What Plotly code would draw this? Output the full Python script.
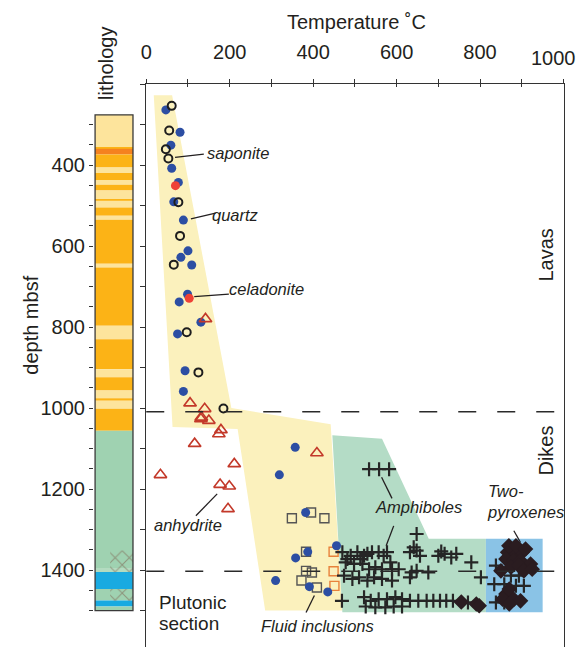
import plotly.graph_objects as go

W, H = 584, 647
FONT = "Liberation Sans, Arial, Helvetica, sans-serif"
TXT = "#231f20"


def px(x):
    return x / W


def py(y):
    return 1 - y / H


# ---------------- data ----------------
temp_ticks = [0, 200, 400, 600, 800, 1000]
temp_ticktext = ["0", "200", "400", "600", "800", ""]
depth_ticks = [400, 600, 800, 1000, 1200, 1400]
lith_ticks = list(range(300, 1501, 50))

# lithology column: interval tops/bottoms (mbsf) and unit
lith_top = [276, 356, 360, 374, 406, 420, 437, 449, 463, 484, 488, 505, 525, 535, 644, 653, 797, 830, 904, 924,
            957, 976, 982, 1002, 1056, 1395, 1405, 1447, 1475, 1490]
lith_bot = [356, 360, 374, 406, 420, 437, 449, 463, 484, 488, 505, 525, 535, 644, 653, 797, 830, 904, 924, 957,
            976, 982, 1002, 1056, 1395, 1405, 1447, 1475, 1490, 1500]
lith_unit = ["L", "O", "R", "O", "L", "O", "L", "O", "L", "O", "L", "O", "L", "O", "L", "O", "L", "O", "L", "O",
             "L", "O", "L", "O", "G", "PG", "B", "G", "B", "G"]
lith_colors = {"L": "#fde49c", "O": "#fcb316", "R": "#f5821f", "G": "#9fd2b1", "PG": "#b3dbc0", "B": "#19aae1"}
hatch_top = [1352, 1447]
hatch_bot = [1405, 1476]

# temperature-field polygons (T degC, depth mbsf)
yellow_T = [18, 62, 204, 442, 470, 285, 219, 63]
yellow_D = [228, 228, 1000, 1040, 1500, 1500, 1052, 1047]
green_T = [446, 565, 677, 814, 814, 470]
green_D = [1067, 1076, 1323, 1323, 1504, 1504]
blue_T_box = [814, 950, 950, 814]
blue_D_box = [1323, 1323, 1504, 1504]

# data points
blue_T = [47, 81, 59, 61, 77, 66, 89, 100, 83, 109, 99, 79, 131, 75, 93, 89,
          319, 357, 382, 456, 387, 358, 310, 391, 435]
blue_D = [264, 319, 351, 408, 443, 491, 536, 612, 628, 647, 719, 738, 788, 817, 908, 959,
          1165, 1097, 1258, 1340, 1355, 1370, 1426, 1441, 1454]
open_T = [61, 55, 47, 53, 77, 81, 66, 97, 125, 185]
open_D = [254, 315, 361, 384, 492, 575, 646, 813, 912, 1001]
red_T = [70, 103]
red_D = [451, 729]
tri_T = [142, 105, 140, 132, 131, 150, 179, 174, 116, 211, 34, 177, 199, 196, 409]
tri_D = [780, 988, 1002, 1023, 1027, 1031, 1054, 1064, 1088, 1138, 1165, 1189, 1193, 1249, 1111]
sq_T = [395, 349, 427, 383, 383, 397, 372, 409]
sq_D = [1258, 1272, 1272, 1355, 1402, 1406, 1426, 1443]
osq_T = [449, 449, 451]
osq_D = [1355, 1403, 1439]
cross_T = [534, 558, 582, 648, 469,
           470, 490, 506, 522, 541, 557, 569, 585, 632, 648, 656, 700, 715, 731, 743, 779,
           482, 513, 530, 577, 641, 707,
           478, 498, 518, 534, 549, 565, 589, 605, 636, 648, 676, 802,
           474, 494, 510, 530, 546, 565, 589, 632,
           522, 538, 557, 577, 597, 613, 632, 652, 672, 688, 704, 719, 735, 771,
           526, 549, 573, 593, 613,
           834, 858, 886, 905, 874, 893, 838, 858, 838]
cross_D = [1151, 1151, 1151, 1311, 1476,
           1356, 1365, 1356, 1365, 1356, 1356, 1365, 1381, 1356, 1352, 1365, 1365, 1360, 1369, 1360, 1381,
           1373, 1373, 1360, 1356, 1344, 1354,
           1381, 1385, 1385, 1398, 1393, 1398, 1398, 1398, 1406, 1402, 1406, 1418,
           1414, 1422, 1418, 1426, 1418, 1422, 1426, 1418,
           1467, 1476, 1472, 1472, 1467, 1472, 1476, 1476, 1476, 1476, 1476, 1476, 1476, 1480,
           1490, 1492, 1492, 1490, 1490,
           1435, 1435, 1439, 1439, 1414, 1414, 1480, 1480, 1389]
dia_T = [866, 878, 890, 901, 862, 881, 897, 921, 874, 893, 850, 905, 925, 869, 886, 909,
         862, 870, 854, 881, 897, 870, 755, 791, 798]
dia_D = [1356, 1352, 1360, 1356, 1373, 1377, 1377, 1385, 1393, 1389, 1402, 1402, 1398, 1340, 1340, 1348,
         1459, 1447, 1472, 1472, 1476, 1484, 1479, 1484, 1488]

# boundaries (dashed)
boundary_D = [1009, 1403]

# labels
lab_text = ["saponite", "quartz", "celadonite", "anhydrite", "Fluid inclusions", "Amphiboles"]
lab_T = [219, 215, 288, 99, 411, 652]
lab_D = [370, 523, 706, 1289, 1538, 1244]
lead_T = [69, 138, None, 107, 166, None, 115, 198, None, 119, 170, None, 383, 403, None,
          589, 564, None, 593, 575, None, 881, 897]
lead_D = [381, 373, None, 533, 519, None, 725, 719, None, 1266, 1212, None, 1505, 1463, None,
          1223, 1171, None, 1291, 1340, None, 1303, 1332]

# ---------------- figure ----------------
fig = go.Figure()

# lithology column
for t, b, u in zip(lith_top, lith_bot, lith_unit):
    fig.add_trace(go.Bar(x=[0.5], y=[b - t], base=[t], width=1, marker=dict(color=lith_colors[u], line=dict(width=0)),
                         xaxis="x2", yaxis="y2", showlegend=False, hoverinfo="skip"))
fig.add_trace(go.Bar(x=[0.7] * len(hatch_top), y=[b - t for t, b in zip(hatch_top, hatch_bot)], base=hatch_top,
                     width=0.6, marker=dict(color="rgba(0,0,0,0)", line=dict(width=0),
                                            pattern=dict(shape="x", fgcolor="#7a5646", size=10, solidity=0.2)),
                     xaxis="x2", yaxis="y2", showlegend=False, hoverinfo="skip"))
fig.add_trace(go.Bar(x=[0.5], y=[lith_bot[-1] - lith_top[0]], base=[lith_top[0]], width=1,
                     marker=dict(color="rgba(0,0,0,0)", line=dict(color="#3a3a3a", width=1.3)),
                     xaxis="x2", yaxis="y2", showlegend=False, hoverinfo="skip"))

# fields
for tt, dd, col in [(yellow_T, yellow_D, "#fbf1bd"), (green_T, green_D, "#b4dcc6"), (blue_T_box, blue_D_box, "#8ac3e6")]:
    fig.add_trace(go.Scatter(x=tt, y=dd, fill="toself", fillcolor=col, mode="none", showlegend=False, hoverinfo="skip"))

# points
fig.add_trace(go.Scatter(x=sq_T, y=sq_D, mode="markers", showlegend=False,
                         marker=dict(symbol="square-open", size=9, color="#555555", line=dict(width=1.4))))
fig.add_trace(go.Scatter(x=osq_T, y=osq_D, mode="markers", showlegend=False,
                         marker=dict(symbol="square-open", size=9, color="#e8823c", line=dict(width=1.4))))
fig.add_trace(go.Scatter(x=blue_T, y=blue_D, mode="markers", showlegend=False,
                         marker=dict(symbol="circle", size=9, color="#2c4ea3", line=dict(width=0))))
fig.add_trace(go.Scatter(x=red_T, y=red_D, mode="markers", showlegend=False,
                         marker=dict(symbol="circle", size=9, color="#ef4136", line=dict(width=0))))
fig.add_trace(go.Scatter(x=open_T, y=open_D, mode="markers", showlegend=False,
                         marker=dict(symbol="circle-open", size=8, color="#1e1e1e", line=dict(width=2))))
fig.add_trace(go.Scatter(x=tri_T, y=tri_D, mode="markers", showlegend=False,
                         marker=dict(symbol="triangle-up-open", size=11, color="#c3392a", line=dict(width=1.6))))
fig.add_trace(go.Scatter(x=cross_T, y=cross_D, mode="markers", showlegend=False,
                         marker=dict(symbol="cross-thin-open", size=10, color="#262626", line=dict(width=2.2, color="#262626"))))
fig.add_trace(go.Scatter(x=dia_T, y=dia_D, mode="markers", showlegend=False,
                         marker=dict(symbol="diamond", size=12, color="#2a1c20", line=dict(width=0))))

# leader lines
fig.add_trace(go.Scatter(x=lead_T, y=lead_D, mode="lines", line=dict(color="#231f20", width=1.3),
                         showlegend=False, hoverinfo="skip", connectgaps=False))

# dummy for overlay axis (inside ticks)
fig.add_trace(go.Scatter(x=[None], y=[None], xaxis="x3", yaxis="y", showlegend=False))

for d in boundary_D:
    fig.add_shape(type="line", xref="x domain", x0=0, x1=1, yref="y", y0=d, y1=d,
                  line=dict(color="#2a2a2a", width=1.5, dash="18px,21px"))


def A(text, x, y, ref="x", size=20, angle=0, xa="center", ya="middle", align="center"):
    return dict(text=text, x=x, y=y, xref=ref, yref=("y" if ref == "x" else "paper"), showarrow=False,
                xanchor=xa, yanchor=ya, textangle=angle, align=align, borderpad=0,
                font=dict(size=size, color=TXT, family=FONT))


ann = []
for t, x, y in zip(lab_text, lab_T, lab_D):
    ann.append(A("<i>" + t + "</i>", x, y, size=16.5))
ann.append(A("<i>Two-</i><br><i>pyroxenes</i>", 815, 1230, size=16.5, xa="left", align="left"))
ann.append(A("Plutonic", 27, 1481, size=19, xa="left"))
ann.append(A("section", 27, 1531, size=19, xa="left"))
ann.append(A("Lavas", 957, 622, angle=-90))
ann.append(A("Dikes", 957, 1106, angle=-90))
ann.append(A("Temperature ˚C", px(354), py(22), ref="paper"))
ann.append(A("lithology", px(101), py(63), ref="paper", angle=-90))
ann.append(A("depth mbsf", px(25), py(325), ref="paper", angle=-90))
# last top-axis label, placed so it stays inside the page
ann.append(A(str(temp_ticks[-1]), px(577), py(58), ref="paper", xa="right"))

ydom = [0, py(84)]
yrange = [1590, 200]
fig.update_layout(
    width=W, height=H, margin=dict(l=0, r=0, t=0, b=0), autosize=False,
    paper_bgcolor="white", plot_bgcolor="rgba(0,0,0,0)",
    barmode="overlay", font=dict(family=FONT, color=TXT, size=20),
    annotations=ann,
    xaxis=dict(domain=[px(141.7), px(563.3)], range=[0, 1000], side="top", anchor="y",
               tickvals=temp_ticks, ticktext=temp_ticktext, ticks="outside", ticklen=4, tickwidth=1.2,
               tickcolor="#333",
               minor=dict(dtick=100, ticks="outside", ticklen=4, tickwidth=1.2, tickcolor="#333"),
               showline=True, linecolor="#333", linewidth=1.2, showgrid=False, zeroline=False,
               tickfont=dict(size=20, color=TXT), ticklabelstandoff=12),
    xaxis3=dict(overlaying="x", range=[0, 1000], side="top", anchor="y", dtick=100, ticks="inside",
                ticklen=3, tickwidth=1.2, tickcolor="#333", showticklabels=False, showline=False,
                showgrid=False, zeroline=False),
    yaxis=dict(domain=ydom, range=yrange, anchor="x", dtick=100, ticks="outside", ticklen=5, tickwidth=1.2,
               tickcolor="#333", showticklabels=False, showline=True, mirror=True, linecolor="#333",
               linewidth=1.2, showgrid=False, zeroline=False),
    xaxis2=dict(domain=[px(88.85), px(129.45)], range=[-0.03, 1.03], anchor="y2", visible=False),
    yaxis2=dict(domain=ydom, range=yrange, anchor="x2", tickvals=lith_ticks,
                ticktext=[str(v) if v in depth_ticks else "" for v in lith_ticks],
                ticks="outside", ticklen=4, tickwidth=1.1, tickcolor="#333", showline=False,
                showgrid=False, zeroline=False, tickfont=dict(size=20, color=TXT)),
)

fig.write_html("out.html", config={"displayModeBar": False},
               post_script="document.body.style.margin='0';document.body.style.overflow='hidden';")
